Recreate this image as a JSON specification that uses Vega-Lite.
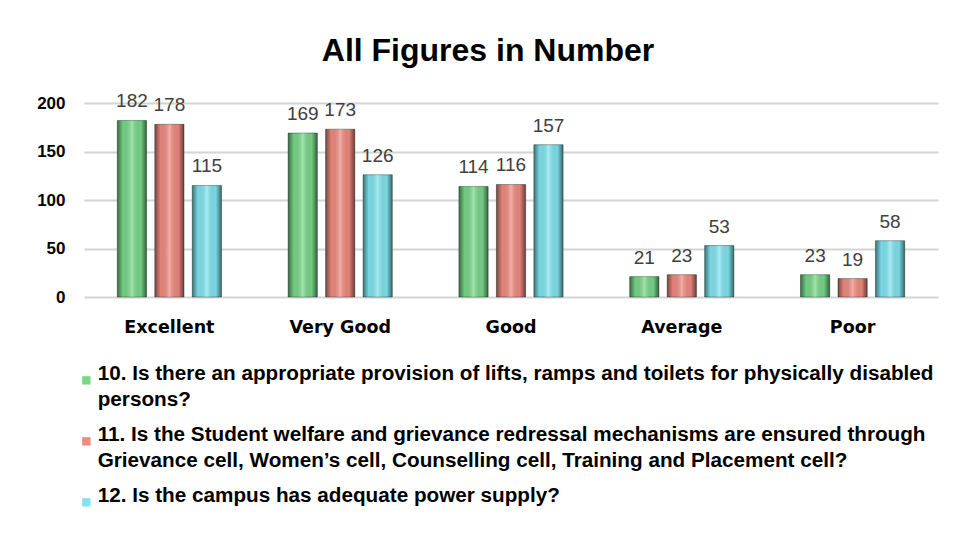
{
  "$schema": "https://vega.github.io/schema/vega-lite/v6.json",
  "width": 854,
  "height": 194,
  "autosize": {"type": "none"},
  "padding": {"left": 84, "top": 103, "right": 16, "bottom": 250},
  "background": "white",
  "title": {
    "text": "All Figures in Number",
    "font": "Liberation Sans",
    "fontSize": 32,
    "fontWeight": "bold",
    "color": "#000000",
    "anchor": "middle",
    "dx": -23,
    "offset": 24
  },
  "data": {
    "values": [
      {"rating": "Excellent", "series": "10. Is there an appropriate provision of lifts, ramps and toilets for physically disabled persons?", "value": 182},
      {"rating": "Excellent", "series": "11. Is the Student welfare and grievance redressal mechanisms are ensured through Grievance cell, Women’s cell, Counselling cell, Training and Placement cell?", "value": 178},
      {"rating": "Excellent", "series": "12. Is the campus has adequate power supply?", "value": 115},
      {"rating": "Very Good", "series": "10. Is there an appropriate provision of lifts, ramps and toilets for physically disabled persons?", "value": 169},
      {"rating": "Very Good", "series": "11. Is the Student welfare and grievance redressal mechanisms are ensured through Grievance cell, Women’s cell, Counselling cell, Training and Placement cell?", "value": 173},
      {"rating": "Very Good", "series": "12. Is the campus has adequate power supply?", "value": 126},
      {"rating": "Good", "series": "10. Is there an appropriate provision of lifts, ramps and toilets for physically disabled persons?", "value": 114},
      {"rating": "Good", "series": "11. Is the Student welfare and grievance redressal mechanisms are ensured through Grievance cell, Women’s cell, Counselling cell, Training and Placement cell?", "value": 116},
      {"rating": "Good", "series": "12. Is the campus has adequate power supply?", "value": 157},
      {"rating": "Average", "series": "10. Is there an appropriate provision of lifts, ramps and toilets for physically disabled persons?", "value": 21},
      {"rating": "Average", "series": "11. Is the Student welfare and grievance redressal mechanisms are ensured through Grievance cell, Women’s cell, Counselling cell, Training and Placement cell?", "value": 23},
      {"rating": "Average", "series": "12. Is the campus has adequate power supply?", "value": 53},
      {"rating": "Poor", "series": "10. Is there an appropriate provision of lifts, ramps and toilets for physically disabled persons?", "value": 23},
      {"rating": "Poor", "series": "11. Is the Student welfare and grievance redressal mechanisms are ensured through Grievance cell, Women’s cell, Counselling cell, Training and Placement cell?", "value": 19},
      {"rating": "Poor", "series": "12. Is the campus has adequate power supply?", "value": 58}
    ]
  },
  "encoding": {
    "x": {
      "field": "rating",
      "type": "nominal",
      "sort": ["Excellent", "Very Good", "Good", "Average", "Poor"],
      "scale": {"paddingInner": 0.39, "paddingOuter": 0.195},
      "axis": {
        "title": null,
        "labelAngle": 0,
        "domain": false,
        "ticks": false,
        "labelFont": "DejaVu Sans",
        "labelFontSize": 17.5,
        "labelFontWeight": "bold",
        "labelColor": "#000000",
        "labelPadding": 21
      }
    },
    "xOffset": {
      "field": "series",
      "type": "nominal",
      "scale": {"paddingInner": 0.22, "paddingOuter": 0}
    },
    "y": {
      "field": "value",
      "type": "quantitative",
      "scale": {"domain": [0, 200]},
      "axis": {
        "title": null,
        "values": [0, 50, 100, 150, 200],
        "domain": false,
        "ticks": false,
        "labelFont": "Liberation Sans",
        "labelFontSize": 17,
        "labelFontWeight": "bold",
        "labelColor": "#000000",
        "labelPadding": 19,
        "gridColor": "#d4d4d4",
        "gridWidth": 2
      }
    }
  },
  "layer": [
    {
      "mark": {"type": "bar", "stroke": "#2a4a3a", "strokeWidth": 0.8, "strokeOpacity": 0.6},
      "encoding": {
        "color": {
          "field": "series",
          "type": "nominal",
          "scale": {"range": ["#78d888", "#f08a80", "#80e4f0"]},
          "legend": {
            "title": null,
            "orient": "none",
            "legendX": -8,
            "legendY": 267,
            "direction": "vertical",
            "symbolType": "square",
            "symbolSize": 70,
            "symbolStrokeWidth": 0,
            "labelFont": "Liberation Sans",
            "labelFontSize": 20.7,
            "labelFontWeight": "bold",
            "labelColor": "#000000",
            "labelLimit": 900,
            "labelBaseline": "alphabetic",
            "labelOffset": 1,
            "rowPadding": 13,
            "labelExpr": "datum.label == '10. Is there an appropriate provision of lifts, ramps and toilets for physically disabled persons?' ? ['10.  Is there an appropriate provision of lifts, ramps and toilets for physically disabled', 'persons?'] : datum.label == '11. Is the Student welfare and grievance redressal mechanisms are ensured through Grievance cell, Women’s cell, Counselling cell, Training and Placement cell?' ? ['11.  Is the Student welfare and grievance redressal mechanisms are ensured through', 'Grievance cell, Women’s cell, Counselling cell, Training and Placement cell?'] : datum.label",
            "encode": {
              "labels": {
                "update": {"lineHeight": {"value": 26}}
              }
            }
          }
        }
      }
    },
    {
      "mark": {
        "type": "bar",
        "fill": {
          "gradient": "linear",
          "x1": 0, "y1": 0, "x2": 1, "y2": 0,
          "stops": [
            {"offset": 0, "color": "rgba(0,0,0,0.5)"},
            {"offset": 0.2, "color": "rgba(0,0,0,0.05)"},
            {"offset": 0.5, "color": "rgba(255,255,255,0.3)"},
            {"offset": 0.8, "color": "rgba(0,0,0,0.05)"},
            {"offset": 1, "color": "rgba(0,0,0,0.55)"}
          ]
        }
      }
    },
    {
      "mark": {
        "type": "text",
        "baseline": "bottom",
        "dy": -9,
        "font": "Liberation Sans",
        "fontSize": 19,
        "color": "#404040"
      },
      "encoding": {"text": {"field": "value", "type": "quantitative"}}
    }
  ],
  "config": {
    "view": {"stroke": null},
    "style": {"guide-label": {"lineHeight": 26}}
  }
}
